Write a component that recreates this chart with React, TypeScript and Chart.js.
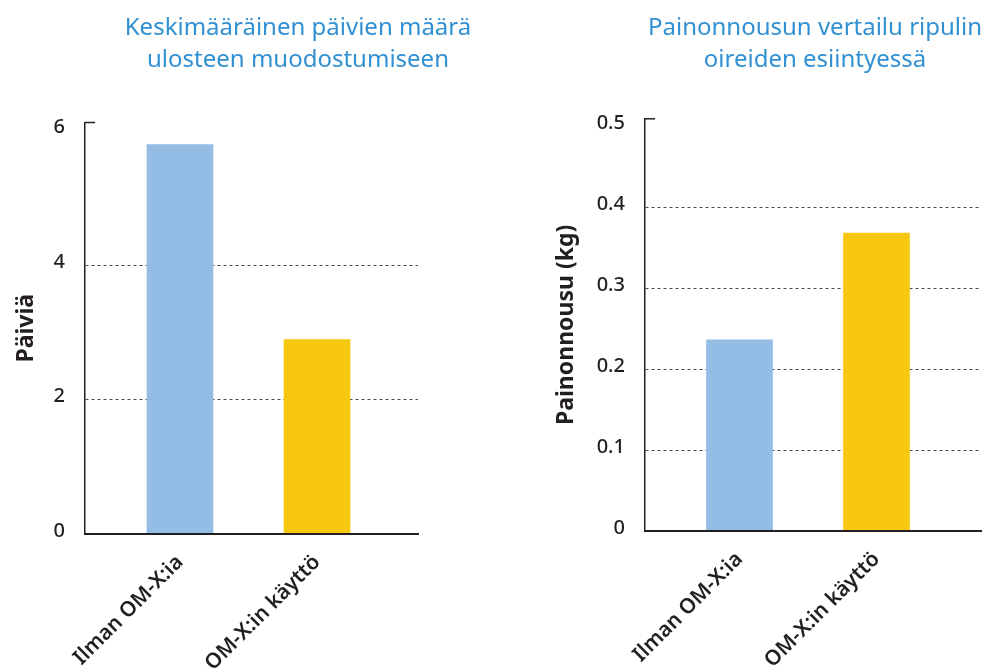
import React, { useEffect, useRef } from 'react';
import { Chart, registerables } from 'chart.js';

Chart.register(...registerables);

// ---- data ----
const categories = ['Ilman OM-X:ia', 'OM-X:in käyttö'];
const barColors = ['#94BDE5', '#F8C70F'];

const leftTitle = ['Keskimääräinen päivien määrä', 'ulosteen muodostumiseen'];
const leftAxisTitle = 'Päiviä';
const leftValues = [5.79, 2.89];
const leftTicks = [0, 2, 4, 6];

const rightTitle = ['Painonnousun vertailu ripulin', 'oireiden esiintyessä'];
const rightAxisTitle = 'Painonnousu (kg)';
const rightValues = [0.236, 0.368];
const rightTicks = [0, 0.1, 0.2, 0.3, 0.4, 0.5];

// ---- styles ----
const FONT = "'Noto Sans', 'DejaVu Sans', sans-serif";
const INK = '#231f20';
const TITLE_BLUE = '#3190D2';
const GRID = '#4a4a4a';

type PanelSpec = {
  title: string[];
  axisTitle: string;
  values: number[];
  ticks: number[];
  left: number;
  width: number;
  height: number;
  yWidth: number;
  padWidth: number;
  xHeight: number;
  xMin: number;
  xMax: number;
  yMax: number;
  titleBottom: number;
};

const leftSpec: PanelSpec = {
  title: leftTitle,
  axisTitle: leftAxisTitle,
  values: leftValues,
  ticks: leftTicks,
  left: 0,
  width: 596,
  height: 700,
  yWidth: 85,
  padWidth: 178,
  xHeight: 166,
  xMin: -0.693,
  xMax: 1.737,
  yMax: 6.12,
  titleBottom: 46.5,
};

const rightSpec: PanelSpec = {
  title: rightTitle,
  axisTitle: rightAxisTitle,
  values: rightValues,
  ticks: rightTicks,
  left: 540,
  width: 550,
  height: 700,
  yWidth: 105,
  padWidth: 109,
  xHeight: 169,
  xMin: -0.69,
  xMax: 1.763,
  yMax: 0.509,
  titleBottom: 42.8,
};

const axisStub = {
  id: 'axisStub',
  afterDraw(chart: any) {
    const { ctx, chartArea } = chart;
    ctx.save();
    ctx.strokeStyle = INK;
    ctx.lineWidth = 1.5;
    ctx.beginPath();
    ctx.moveTo(chartArea.left, chartArea.top);
    ctx.lineTo(chartArea.left + 10, chartArea.top);
    ctx.stroke();
    ctx.restore();
  },
};

function BarPanel({ spec }: { spec: PanelSpec }) {
  const ref = useRef<HTMLCanvasElement | null>(null);

  useEffect(() => {
    if (!ref.current) return;
    const topTick = spec.ticks[spec.ticks.length - 1];
    const chart = new Chart(ref.current, {
      type: 'bar',
      data: {
        datasets: [
          {
            data: spec.values.map((v, i) => ({ x: i, y: v })),
            backgroundColor: barColors,
            borderWidth: 0,
            barThickness: 66,
            xAxisID: 'x',
            yAxisID: 'y',
          },
        ],
      },
      options: {
        responsive: false,
        animation: false,
        layout: { padding: 0 },
        plugins: {
          legend: { display: false },
          tooltip: { enabled: false },
          title: {
            display: true,
            text: spec.title,
            color: TITLE_BLUE,
            font: { family: FONT, size: 24, weight: 'normal', lineHeight: '32px' },
            padding: { top: 12, bottom: spec.titleBottom },
          },
        },
        scales: {
          x: {
            type: 'linear',
            offset: false,
            bounds: 'data',
            min: spec.xMin,
            max: spec.xMax,
            afterBuildTicks: (s: any) => {
              s.ticks = categories.map((_, i) => ({ value: i }));
            },
            afterFit: (s: any) => {
              s.height = spec.xHeight;
            },
            ticks: {
              autoSkip: false,
              minRotation: 45,
              maxRotation: 45,
              padding: 16,
              color: INK,
              font: { family: FONT, size: 21, weight: '600' },
              callback: (v: any) => categories[Number(v)] ?? '',
            },
            grid: { display: false, drawTicks: false },
            border: { display: true, color: INK, width: 2, z: 1 },
          },
          y: {
            type: 'linear',
            position: 'left',
            min: 0,
            max: spec.yMax,
            afterBuildTicks: (s: any) => {
              s.ticks = spec.ticks.map((v) => ({ value: v }));
            },
            afterFit: (s: any) => {
              s.width = spec.yWidth;
            },
            ticks: {
              padding: 20,
              labelOffset: -3,
              color: INK,
              font: { family: FONT, size: 20, weight: '500' },
              callback: (v: any) => String(v),
            },
            grid: {
              drawTicks: false,
              lineWidth: 1,
              color: (ctx: any) =>
                ctx.tick && (ctx.tick.value === 0 || ctx.tick.value >= topTick)
                  ? 'rgba(0,0,0,0)'
                  : GRID,
            },
            border: { display: true, color: INK, width: 1.5, dash: [3, 3] },
            title: {
              display: true,
              text: spec.axisTitle,
              color: INK,
              font: { family: FONT, size: 23, weight: 'bold' },
              padding: { top: 13, bottom: 0 },
            },
          },
          pad: {
            type: 'linear',
            position: 'right',
            display: true,
            afterFit: (s: any) => {
              s.width = spec.padWidth;
            },
            ticks: { display: false },
            grid: { display: false, drawTicks: false },
            border: { display: false },
          },
        },
      } as any,
      plugins: [axisStub],
    });
    return () => chart.destroy();
  }, [spec]);

  return (
    <canvas
      ref={ref}
      width={spec.width}
      height={spec.height}
      style={{
        position: 'absolute',
        left: spec.left,
        top: 0,
        width: spec.width,
        height: spec.height,
      }}
    />
  );
}

export default function App() {
  return (
    <div
      style={{
        position: 'fixed',
        left: 0,
        top: 0,
        width: 991,
        height: 668,
        overflow: 'hidden',
        background: '#ffffff',
      }}
    >
      <BarPanel spec={leftSpec} />
      <BarPanel spec={rightSpec} />
    </div>
  );
}
